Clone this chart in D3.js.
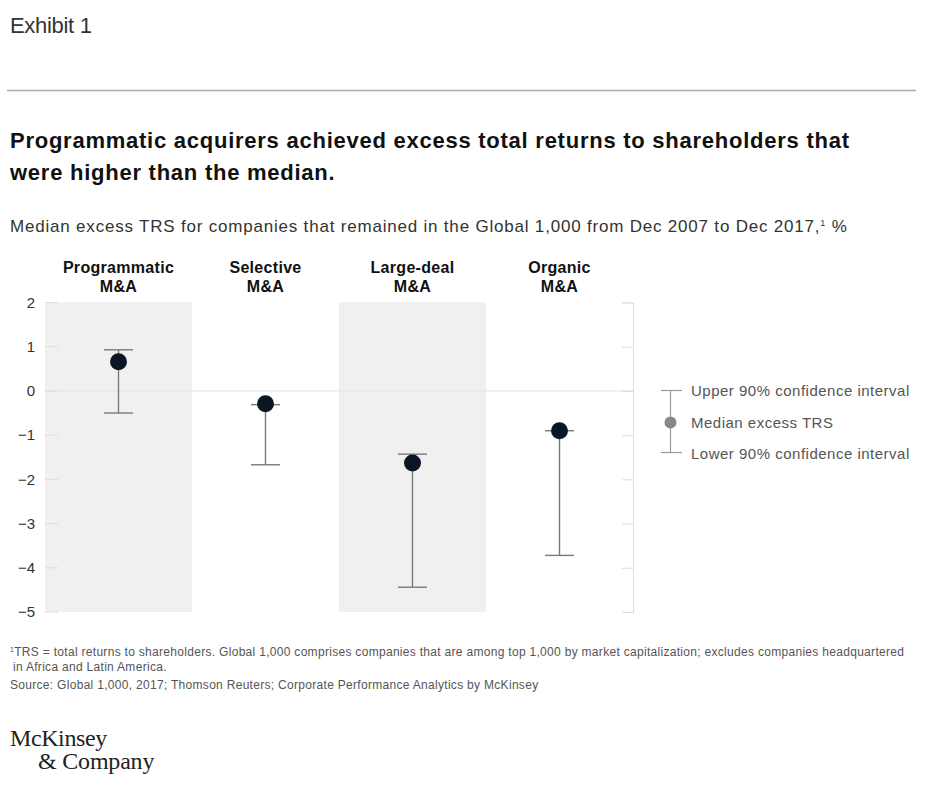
<!DOCTYPE html>
<html><head><meta charset="utf-8">
<script src="https://cdn.jsdelivr.net/npm/d3@7"></script>
<style>
body{margin:0;background:#fff;}
svg text{font-family:"Liberation Sans",Arial,sans-serif;}
</style></head>
<body><svg id="c" width="939" height="787"></svg>
<script>
const categories = ["Programmatic\nM&A","Selective\nM&A","Large-deal\nM&A","Organic\nM&A"];
const medianValues = [0.66, -0.29, -1.63, -0.90];
const upperValues = [0.93, -0.31, -1.43, -0.90];
const lowerValues = [-0.50, -1.67, -4.44, -3.72];
const yTicks = [2,1,0,-1,-2,-3,-4,-5];
const legendLabels = ["Upper 90% confidence interval","Median excess TRS","Lower 90% confidence interval"];

const svg = d3.select("#c");
const x = d3.scaleBand().domain(categories).range([45,633]).padding(0);
const y = d3.scaleLinear().domain([-5,2]).range([612,302.5]);

// header
svg.append("text").attr("x",10).attr("y",33).attr("font-size",22).attr("fill","#333").attr("letter-spacing",-0.3).text("Exhibit 1");
svg.append("line").attr("x1",7).attr("x2",916).attr("y1",90.5).attr("y2",90.5).attr("stroke","#aaa").attr("stroke-width",1.6);
const h = svg.append("text").attr("font-size",22).attr("font-weight","bold").attr("fill","#111").attr("letter-spacing",0.75);
h.append("tspan").attr("x",10).attr("y",148).text("Programmatic acquirers achieved excess total returns to shareholders that");
h.append("tspan").attr("x",10).attr("y",180).text("were higher than the median.");
const st = svg.append("text").attr("x",10).attr("y",232).attr("font-size",17).attr("fill","#333").attr("letter-spacing",0.8);
st.append("tspan").text("Median excess TRS for companies that remained in the Global 1,000 from Dec 2007 to Dec 2017,");
st.append("tspan").attr("font-size",9).attr("dy",-6).text("1");
st.append("tspan").attr("dy",6).text(" %");

// shaded bands
svg.selectAll("rect.band").data(categories.filter((d,i)=>i%2===0)).join("rect")
  .attr("x",d=>x(d)).attr("width",x.bandwidth()).attr("y",y(2)).attr("height",y(-5)-y(2)).attr("fill","#f0f0f0");

// zero line
svg.append("line").attr("x1",45).attr("x2",633).attr("y1",y(0)).attr("y2",y(0)).attr("stroke","#e2e2e2").attr("stroke-width",1);

// left axis
const ya = svg.append("g").attr("transform","translate(45,0)")
  .call(d3.axisLeft(y).tickValues(yTicks).tickSize(0).tickPadding(10).tickFormat(d3.format("d")));
ya.select(".domain").remove();
ya.selectAll("text").attr("font-size",15).attr("fill","#333").attr("font-family","Liberation Sans, Arial, sans-serif");
svg.append("g").selectAll("line").data(yTicks).join("line")
  .attr("x1",45).attr("x2",58).attr("y1",d=>y(d)).attr("y2",d=>y(d)).attr("stroke","#dcdcdc");

// right axis
const ra = svg.append("g").attr("transform","translate(633,0)")
  .call(d3.axisLeft(y).tickValues(yTicks).tickSize(11).tickFormat(""));
ra.select(".domain").attr("stroke","#ddd");
ra.selectAll("line").attr("stroke","#ddd");

// category labels
categories.forEach((c,i)=>{
  const t = svg.append("text").attr("text-anchor","middle").attr("font-size",16).attr("font-weight","bold").attr("fill","#111").attr("letter-spacing",0.3);
  c.split("\n").forEach((ln,j)=>t.append("tspan").attr("x",x(c)+x.bandwidth()/2).attr("y",273+j*19).text(ln));
});

// error bars
const data = categories.map((c,i)=>({c,m:medianValues[i],u:upperValues[i],l:lowerValues[i]}));
const cx = d=>x(d.c)+x.bandwidth()/2;
const g = svg.append("g").attr("stroke","#7a7a7a").attr("stroke-width",1.4);
g.selectAll("line.v").data(data).join("line").attr("x1",cx).attr("x2",cx).attr("y1",d=>y(d.u)).attr("y2",d=>y(d.l));
g.selectAll("line.u").data(data).join("line").attr("x1",d=>cx(d)-14.5).attr("x2",d=>cx(d)+14.5).attr("y1",d=>y(d.u)).attr("y2",d=>y(d.u));
g.selectAll("line.l").data(data).join("line").attr("x1",d=>cx(d)-14.5).attr("x2",d=>cx(d)+14.5).attr("y1",d=>y(d.l)).attr("y2",d=>y(d.l));
svg.selectAll("circle.m").data(data).join("circle").attr("cx",cx).attr("cy",d=>y(d.m)).attr("r",8.5).attr("fill","#0b1624");

// legend
const lg = svg.append("g");
lg.append("line").attr("x1",670.5).attr("x2",670.5).attr("y1",390.5).attr("y2",452.5).attr("stroke","#999").attr("stroke-width",1.2);
lg.append("line").attr("x1",661).attr("x2",682).attr("y1",390.5).attr("y2",390.5).attr("stroke","#999").attr("stroke-width",1.2);
lg.append("line").attr("x1",661).attr("x2",682).attr("y1",452.5).attr("y2",452.5).attr("stroke","#999").attr("stroke-width",1.2);
lg.append("circle").attr("cx",670.5).attr("cy",422.5).attr("r",6).attr("fill","#888");
lg.selectAll("text").data(legendLabels).join("text").attr("x",691).attr("y",(d,i)=>396+i*31.5)
  .attr("font-size",15).attr("fill","#555").attr("letter-spacing",0.5).text(d=>d);

// footnotes
const fn = svg.append("g").attr("font-size",12).attr("fill","#555").attr("letter-spacing",0.3);
const f1 = fn.append("text").attr("x",10).attr("y",656);
f1.append("tspan").attr("font-size",7).attr("dy",-4).text("1");
f1.append("tspan").attr("dy",4).text("TRS = total returns to shareholders. Global 1,000 comprises companies that are among top 1,000 by market capitalization; excludes companies headquartered");
fn.append("text").attr("x",13).attr("y",671).text("in Africa and Latin America.");
fn.append("text").attr("x",10).attr("y",689).text("Source: Global 1,000, 2017; Thomson Reuters; Corporate Performance Analytics by McKinsey");

// logo
const lo = svg.append("g").attr("font-size",24).attr("fill","#222");
lo.append("text").attr("x",10).attr("y",746).attr("letter-spacing",-0.4).style("font-family","Liberation Serif, serif").text("McKinsey");
lo.append("text").attr("x",38).attr("y",769).attr("letter-spacing",-0.2).style("font-family","Liberation Serif, serif").text("& Company");
</script></body></html>
